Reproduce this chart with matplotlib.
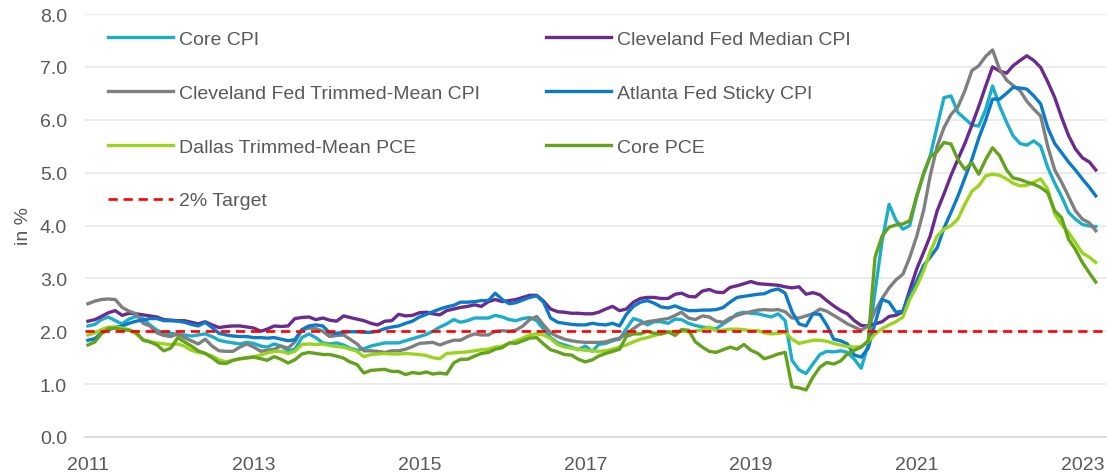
"""Core inflation measures vs. the 2% target, 2011-2023."""

import matplotlib

matplotlib.use("Agg")
import matplotlib.dates as mdates
import matplotlib.pyplot as plt
import pandas as pd

# monthly observations, Jan 2011 - Mar 2023 (one row per year)
core_cpi = [
    2.10, 2.13, 2.22, 2.27, 2.20, 2.14, 2.23, 2.28, 2.24, 2.12, 2.02, 1.96,
    1.96, 1.94, 1.93, 1.91, 1.93, 1.95, 1.90, 1.83, 1.80, 1.78, 1.76, 1.79,
    1.77, 1.72, 1.70, 1.76, 1.72, 1.63, 1.66, 1.88, 1.95, 1.88, 1.78, 1.76,
    1.78, 1.74, 1.68, 1.64, 1.67, 1.72, 1.75, 1.78, 1.78, 1.78, 1.82, 1.86,
    1.90, 1.94, 2.00, 2.08, 2.14, 2.22, 2.17, 2.20, 2.25, 2.25, 2.25, 2.30,
    2.27, 2.22, 2.20, 2.24, 2.26, 2.20, 2.04, 1.88, 1.78, 1.74, 1.70, 1.65,
    1.72, 1.62, 1.75, 1.77, 1.82, 1.85, 2.05, 2.24, 2.20, 2.12, 2.18, 2.18,
    2.15, 2.23, 2.22, 2.15, 2.11, 2.08, 2.06, 2.05, 2.14, 2.22, 2.33, 2.36,
    2.34, 2.33, 2.30, 2.27, 2.33, 2.20, 1.45, 1.27, 1.20, 1.38, 1.56, 1.62,
    1.61, 1.63, 1.60, 1.47, 1.30, 1.75, 2.75, 3.70, 4.40, 4.10, 3.93, 4.00,
    4.55, 4.98, 5.31, 5.88, 6.42, 6.45, 6.14, 6.02, 5.90, 5.88, 6.20, 6.64,
    6.26, 5.95, 5.70, 5.55, 5.52, 5.60, 5.50, 5.10, 4.80, 4.55, 4.25, 4.12,
    4.02, 3.99, 3.98,
]
median_cpi = [
    2.19, 2.22, 2.28, 2.35, 2.39, 2.30, 2.34, 2.33, 2.31, 2.29, 2.27, 2.22,
    2.21, 2.20, 2.20, 2.17, 2.14, 2.18, 2.12, 2.07, 2.09, 2.10, 2.10, 2.08,
    2.06, 2.00, 2.04, 2.10, 2.09, 2.10, 2.24, 2.26, 2.27, 2.22, 2.25, 2.21,
    2.19, 2.29, 2.26, 2.23, 2.20, 2.15, 2.12, 2.19, 2.20, 2.32, 2.29, 2.30,
    2.35, 2.36, 2.33, 2.31, 2.39, 2.42, 2.45, 2.47, 2.50, 2.47, 2.56, 2.60,
    2.56, 2.58, 2.60, 2.64, 2.68, 2.68, 2.57, 2.42, 2.37, 2.36, 2.34, 2.34,
    2.33, 2.33, 2.36, 2.42, 2.47, 2.39, 2.42, 2.55, 2.62, 2.64, 2.64, 2.62,
    2.62, 2.70, 2.72, 2.66, 2.65, 2.76, 2.79, 2.74, 2.73, 2.83, 2.86, 2.90,
    2.94, 2.90, 2.89, 2.88, 2.87, 2.84, 2.82, 2.84, 2.70, 2.73, 2.69, 2.58,
    2.48, 2.39, 2.33, 2.20, 2.11, 2.10, 2.14, 2.18, 2.28, 2.30, 2.37, 2.78,
    3.18, 3.50, 3.80, 4.28, 4.60, 4.95, 5.25, 5.55, 5.90, 6.25, 6.64, 7.00,
    6.92, 6.88, 7.02, 7.12, 7.21, 7.12, 6.99, 6.72, 6.42, 6.05, 5.70, 5.45,
    5.28, 5.20, 5.05,
]
trimmed_cpi = [
    2.52, 2.57, 2.60, 2.61, 2.60, 2.45, 2.38, 2.33, 2.15, 2.10, 1.97, 1.92,
    1.90, 1.95, 1.88, 1.82, 1.76, 1.85, 1.72, 1.63, 1.62, 1.62, 1.70, 1.76,
    1.70, 1.62, 1.64, 1.66, 1.72, 1.68, 1.80, 2.03, 2.06, 2.05, 2.00, 1.90,
    1.92, 1.93, 1.85, 1.76, 1.63, 1.63, 1.62, 1.60, 1.63, 1.63, 1.66, 1.71,
    1.77, 1.78, 1.79, 1.74, 1.79, 1.83, 1.83, 1.90, 1.95, 1.93, 1.93, 2.00,
    2.01, 2.00, 2.02, 2.10, 2.22, 2.28, 2.12, 1.97, 1.90, 1.85, 1.82, 1.80,
    1.79, 1.79, 1.79, 1.80, 1.84, 1.87, 1.95, 2.05, 2.14, 2.18, 2.20, 2.22,
    2.24, 2.30, 2.36, 2.25, 2.22, 2.29, 2.27, 2.19, 2.17, 2.25, 2.30, 2.34,
    2.37, 2.40, 2.41, 2.40, 2.41, 2.37, 2.25, 2.25, 2.29, 2.33, 2.42, 2.38,
    2.30, 2.22, 2.14, 2.08, 2.02, 2.10, 2.38, 2.62, 2.82, 2.97, 3.08, 3.40,
    3.80, 4.30, 4.94, 5.50, 5.85, 6.10, 6.24, 6.55, 6.93, 7.02, 7.20, 7.32,
    6.95, 6.75, 6.65, 6.55, 6.35, 6.20, 6.07, 5.50, 5.05, 4.82, 4.55, 4.28,
    4.12, 4.05, 3.90,
]
sticky_cpi = [
    1.83, 1.86, 1.97, 2.03, 2.07, 2.10, 2.15, 2.19, 2.21, 2.24, 2.24, 2.20,
    2.20, 2.19, 2.17, 2.13, 2.10, 2.17, 2.07, 1.96, 1.93, 1.91, 1.90, 1.90,
    1.88, 1.88, 1.87, 1.88, 1.85, 1.82, 1.84, 2.03, 2.10, 2.12, 2.10, 1.97,
    1.96, 1.98, 1.99, 1.99, 1.98, 1.98, 2.00, 2.05, 2.08, 2.10, 2.15, 2.19,
    2.27, 2.32, 2.37, 2.42, 2.46, 2.49, 2.55, 2.55, 2.56, 2.58, 2.58, 2.72,
    2.60, 2.52, 2.54, 2.59, 2.64, 2.67, 2.55, 2.25, 2.17, 2.15, 2.13, 2.12,
    2.12, 2.15, 2.13, 2.12, 2.15, 2.10, 2.32, 2.47, 2.55, 2.58, 2.53, 2.46,
    2.44, 2.48, 2.43, 2.39, 2.39, 2.40, 2.40, 2.41, 2.45, 2.55, 2.64, 2.66,
    2.68, 2.70, 2.71, 2.77, 2.80, 2.72, 2.37, 2.14, 2.10, 2.33, 2.32, 2.12,
    1.85, 1.82, 1.76, 1.55, 1.51, 1.68, 2.15, 2.60, 2.55, 2.36, 2.38, 2.70,
    2.95, 3.25, 3.40, 3.58, 3.95, 4.25, 4.55, 4.90, 5.25, 5.65, 6.00, 6.39,
    6.39, 6.50, 6.61, 6.60, 6.58, 6.45, 6.30, 5.85, 5.55, 5.38, 5.20, 5.05,
    4.88, 4.72, 4.56,
]
dallas_pce = [
    1.93, 1.97, 2.03, 2.08, 2.08, 2.06, 2.03, 1.95, 1.84, 1.80, 1.78, 1.76,
    1.75, 1.76, 1.72, 1.64, 1.60, 1.58, 1.53, 1.46, 1.42, 1.45, 1.48, 1.49,
    1.52, 1.55, 1.59, 1.62, 1.62, 1.58, 1.62, 1.75, 1.76, 1.75, 1.76, 1.73,
    1.71, 1.70, 1.66, 1.62, 1.52, 1.56, 1.57, 1.58, 1.57, 1.57, 1.58, 1.57,
    1.56, 1.54, 1.50, 1.48, 1.58, 1.59, 1.60, 1.61, 1.63, 1.65, 1.66, 1.70,
    1.72, 1.77, 1.82, 1.87, 1.93, 1.95, 1.93, 1.86, 1.75, 1.70, 1.68, 1.66,
    1.64, 1.63, 1.62, 1.63, 1.66, 1.70, 1.74, 1.80, 1.85, 1.88, 1.92, 1.95,
    1.98, 2.00, 2.00, 1.99, 2.00, 2.03, 2.08, 2.01, 2.02, 2.04, 2.04, 2.03,
    2.01, 2.01, 1.97, 1.95, 1.96, 1.98, 1.85, 1.77, 1.80, 1.83, 1.83, 1.81,
    1.77, 1.74, 1.71, 1.70, 1.71, 1.80, 1.95, 2.05, 2.12, 2.18, 2.27, 2.60,
    2.85, 3.15, 3.50, 3.80, 3.93, 4.00, 4.12, 4.40, 4.65, 4.75, 4.94, 4.97,
    4.95, 4.88, 4.80, 4.75, 4.76, 4.82, 4.88, 4.69, 4.22, 4.02, 3.87, 3.68,
    3.48, 3.40, 3.30,
]
core_pce = [
    1.74, 1.80, 1.95, 2.05, 2.06, 2.03, 2.02, 1.98, 1.83, 1.80, 1.74, 1.63,
    1.68, 1.88, 1.80, 1.72, 1.63, 1.58, 1.50, 1.40, 1.39, 1.45, 1.48, 1.50,
    1.51, 1.48, 1.45, 1.52, 1.47, 1.40, 1.46, 1.57, 1.60, 1.58, 1.56, 1.56,
    1.53, 1.49, 1.42, 1.37, 1.21, 1.26, 1.27, 1.28, 1.24, 1.24, 1.18, 1.22,
    1.20, 1.23, 1.19, 1.21, 1.19, 1.40, 1.47, 1.47, 1.53, 1.58, 1.60, 1.66,
    1.69, 1.78, 1.77, 1.82, 1.87, 1.88, 1.76, 1.65, 1.61, 1.56, 1.55, 1.47,
    1.42, 1.46, 1.53, 1.58, 1.62, 1.66, 1.90, 1.95, 1.95, 2.00, 1.96, 1.95,
    1.99, 1.92, 2.03, 2.02, 1.80, 1.70, 1.62, 1.60, 1.65, 1.70, 1.66, 1.75,
    1.64, 1.58, 1.48, 1.52, 1.57, 1.60, 0.95, 0.93, 0.89, 1.13, 1.32, 1.41,
    1.38, 1.44, 1.57, 1.64, 1.70, 1.82, 3.40, 3.80, 3.97, 4.01, 4.03, 4.09,
    4.56, 5.00, 5.30, 5.40, 5.57, 5.54, 5.25, 5.06, 5.19, 4.97, 5.25, 5.47,
    5.32, 5.05, 4.90, 4.87, 4.82, 4.78, 4.72, 4.62, 4.28, 4.15, 3.74, 3.55,
    3.30, 3.10, 2.93,
]
target = 2.0

dates = pd.date_range("2011-01-01", periods=len(core_cpi), freq="MS")
tick_years = list(range(2011, 2024, 2))

series = [
    ("Core CPI", core_cpi, "#1aaecb"),
    ("Cleveland Fed Median CPI", median_cpi, "#6b2a8e"),
    ("Cleveland Fed Trimmed-Mean CPI", trimmed_cpi, "#7f7f7f"),
    ("Atlanta Fed Sticky CPI", sticky_cpi, "#0b7bc9"),
    ("Dallas Trimmed-Mean PCE", dallas_pce, "#9bd41c"),
    ("Core PCE", core_pce, "#63a31b"),
]

TEXT = "#595959"
plt.rcParams["font.family"] = ["Liberation Sans", "DejaVu Sans"]

fig = plt.figure(figsize=(11.07, 4.77), dpi=100)
ax = fig.add_axes([85 / 1107, 39 / 477, 1021 / 1107, 423 / 477])

handles = {}
for label, values, color in series:
    (line,) = ax.plot(dates, values, color=color, lw=2.4, label=label,
                      solid_joinstyle="round", zorder=3)
    handles[label] = line
handles["2% Target"] = ax.axhline(target, color="#ff0000", lw=1.9,
                                  ls=(0, (3.5, 2.2)), label="2% Target", zorder=4)

ax.set_ylim(0, 8)
ax.set_yticks(range(0, 9))
ax.yaxis.set_major_formatter(matplotlib.ticker.FormatStrFormatter("%.1f"))
ax.set_xlim(dates[0] - pd.Timedelta(days=13), dates[-1] + pd.Timedelta(days=45))
ax.set_xticks([pd.Timestamp(f"{y}-01-01") for y in tick_years])
ax.xaxis.set_major_formatter(mdates.DateFormatter("%Y"))

ax.grid(axis="y", color="#e8e8e8", lw=1.2, zorder=0)
for side in ("top", "right", "left"):
    ax.spines[side].set_visible(False)
ax.spines["bottom"].set_color("#d4d4d4")
ax.spines["bottom"].set_linewidth(1.2)
ax.tick_params(length=0, labelsize=14, colors=TEXT)
ax.tick_params(axis="x", pad=14)
ax.tick_params(axis="y", pad=13)

ax.set_ylabel("in %", fontsize=14, color=TEXT)
ax.yaxis.set_label_coords(-0.052, 0.5)

order = ["Core CPI", "Cleveland Fed Trimmed-Mean CPI", "Dallas Trimmed-Mean PCE", "2% Target",
         "Cleveland Fed Median CPI", "Atlanta Fed Sticky CPI", "Core PCE"]
leg = ax.legend([handles[k] for k in order], order, ncol=2, loc="upper left",
                bbox_to_anchor=(0.0225, 0.961), frameon=False, fontsize=14,
                handlelength=3.35, handletextpad=0.3, columnspacing=3.4,
                labelspacing=1.86, borderpad=0, borderaxespad=0)
for text in leg.get_texts():
    text.set_color(TEXT)

fig.savefig("out.png", dpi=100)
